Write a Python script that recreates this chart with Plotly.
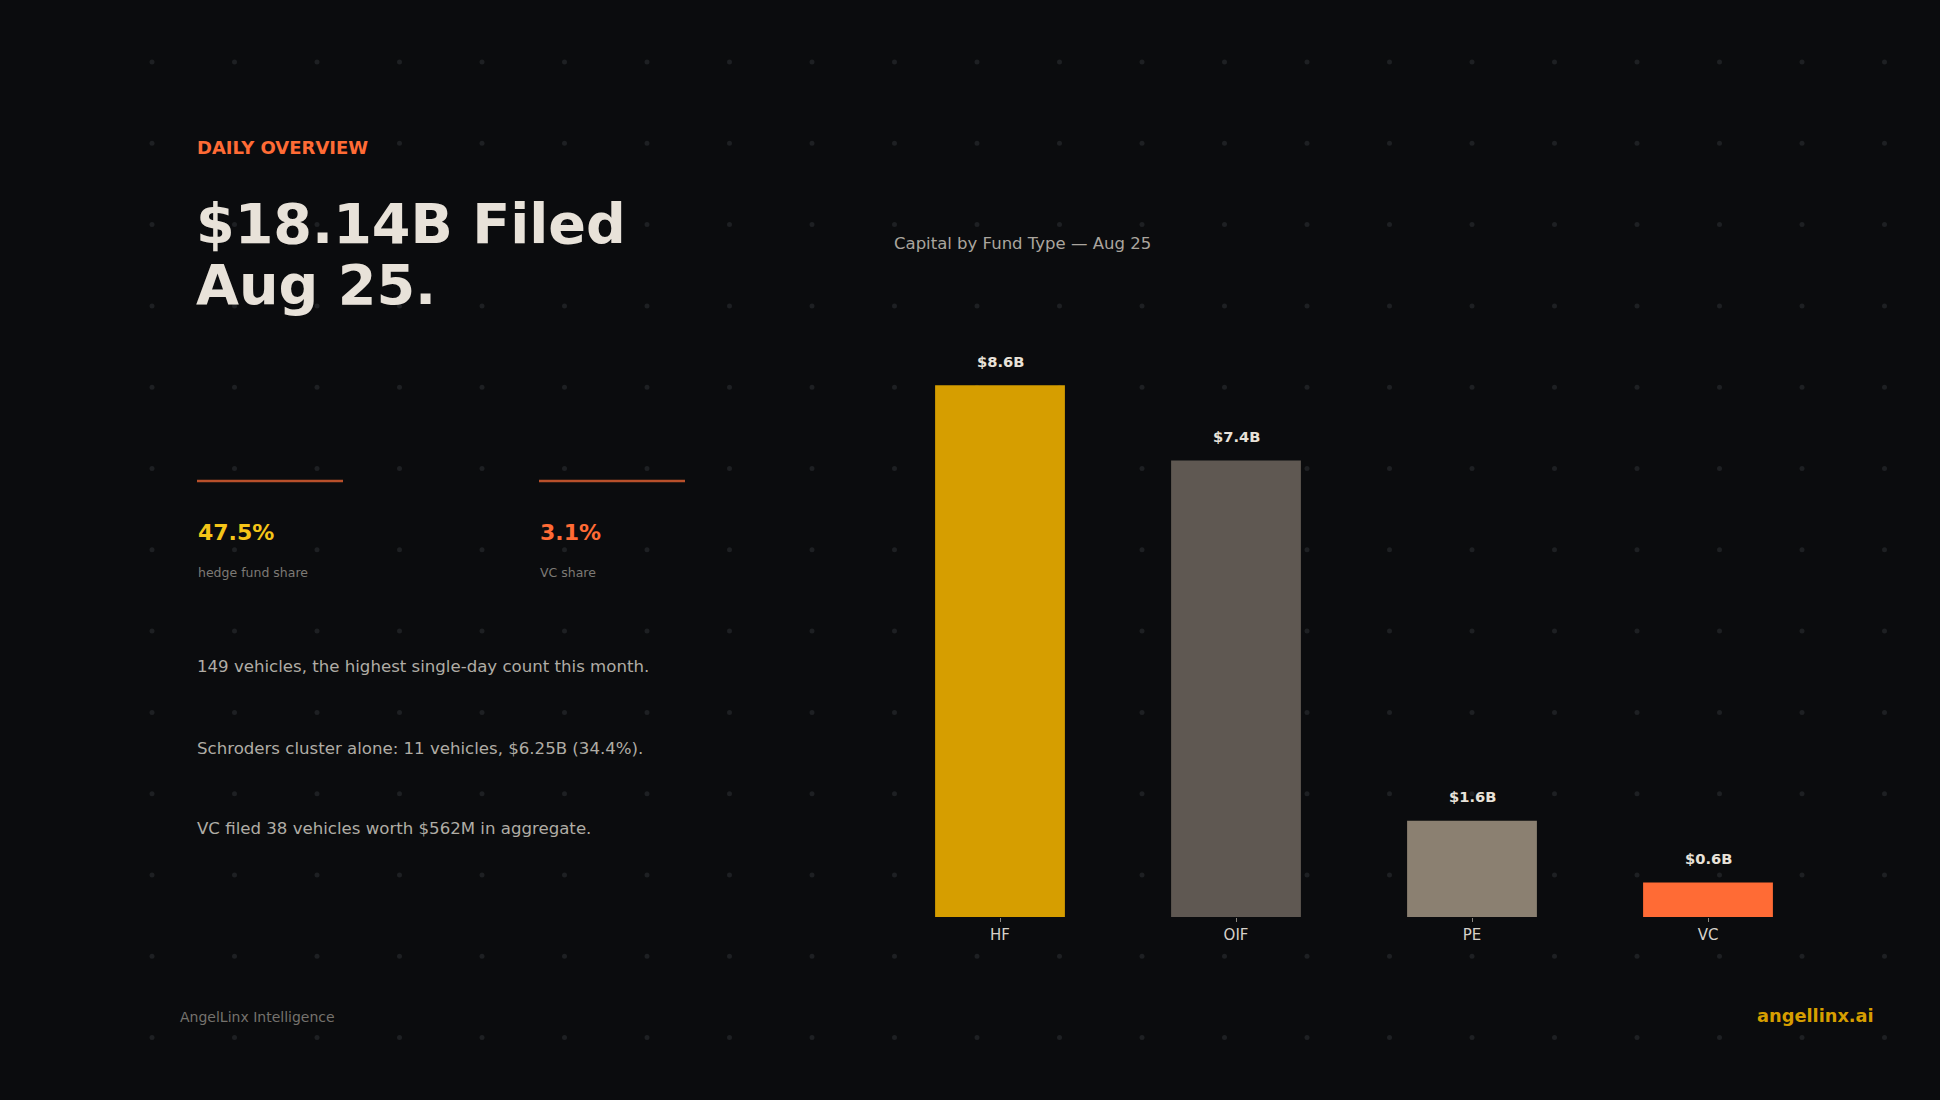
import plotly.graph_objects as go

W, H = 1940, 1100

# ---- data ----
categories = ["HF", "OIF", "PE", "VC"]
capital_bn = [8.62, 7.40, 1.56, 0.56]
bar_colors = ["#d69e00", "#5f5852", "#8b8071", "#ff6b35"]

kpi_values = ["47.5%", "3.1%"]
kpi_labels = ["hedge fund share", "VC share"]
kpi_colors = ["#f5c518", "#ff6b35"]

notes = [
    "149 vehicles, the highest single-day count this month.",
    "Schroders cluster alone: 11 vehicles, $6.25B (34.4%).",
    "VC filed 38 vehicles worth $562M in aggregate.",
]

BG = "#0b0c0e"
FONT = "DejaVu Sans"


def px(x):
    return x / W


def py(y):
    return 1 - y / H


fig = go.Figure()
fig.add_trace(go.Bar(
    x=categories, y=capital_bn,
    marker=dict(color=bar_colors, line=dict(width=0)),
    hoverinfo="skip",
))

# bar value labels
for c, v in zip(categories, capital_bn):
    fig.add_annotation(x=c, y=v, xref="x", yref="y", yshift=24, showarrow=False,
                       text=f"${v:.1f}B", yanchor="middle",
                       font=dict(family=FONT, size=14.7, color="#e8e2d9", weight="bold"))


def text(x, y, s, size, color, bold=False, xanchor="left"):
    fig.add_annotation(x=px(x), y=py(y), xref="paper", yref="paper", showarrow=False,
                       text=s, xanchor=xanchor, yanchor="middle", align="left",
                       font=dict(family=FONT, size=size, color=color,
                                 weight="bold" if bold else "normal"))


text(195, 148, "DAILY OVERVIEW", 18, "#ff6b35", bold=True)
text(194, 223, "$18.14B Filed", 55.6, "#e8e2d9", bold=True)
text(194, 285, "Aug 25.", 55.6, "#e8e2d9", bold=True)

kpi_x = [196, 538]
for xx, v, lab, col in zip(kpi_x, kpi_values, kpi_labels, kpi_colors):
    text(xx, 532, v, 22, col, bold=True)
    text(xx, 572, lab, 12.5, "#7d7a75")

note_y = [666, 748, 828]
for yy, n in zip(note_y, notes):
    text(195, yy, n, 16.6, "#b0aca5")

text(892, 244, "Capital by Fund Type \u2014 Aug 25", 16.5, "#aaa59e")
text(178, 1017, "AngelLinx Intelligence", 14, "#75726d")
text(1876, 1015, "angellinx.ai", 17.8, "#d69e00", bold=True, xanchor="right")

shapes = []
# decorative background dot grid
for r in range(13):
    for c in range(23):
        cx = 152 + c * 82.5
        cy = 62 + r * 81.3
        shapes.append(dict(type="circle", xref="paper", yref="paper", layer="below",
                           x0=px(cx - 2.5), x1=px(cx + 2.5), y0=py(cy + 2.5), y1=py(cy - 2.5),
                           fillcolor="#1e2023", line=dict(width=0)))
# KPI accent lines
for x0, x1 in [(197, 343), (539, 685)]:
    shapes.append(dict(type="line", xref="paper", yref="paper", x0=px(x0), x1=px(x1),
                       y0=py(481), y1=py(481), line=dict(color="#b9502b", width=2.5)))

fig.update_layout(
    width=W, height=H,
    paper_bgcolor=BG, plot_bgcolor="rgba(0,0,0,0)",
    margin=dict(l=0, r=0, t=0, b=0),
    showlegend=False,
    bargap=0.45,
    shapes=shapes,
    xaxis=dict(domain=[px(882), px(1826)], range=[-0.5, 3.5], showgrid=False, zeroline=False,
               showline=False, ticks="outside", ticklen=4, tickcolor="#8a857e", tickwidth=1,
               tickfont=dict(family=FONT, size=15, color="#d6d1c9"), fixedrange=True),
    yaxis=dict(domain=[py(917), py(337)], range=[0, 9.4], visible=False, fixedrange=True),
)

fig.write_html(
    "out.html",
    config={"displayModeBar": False},
    post_script="document.body.style.margin='0';document.body.style.background='#0b0c0e';document.body.style.overflow='hidden';",
)
